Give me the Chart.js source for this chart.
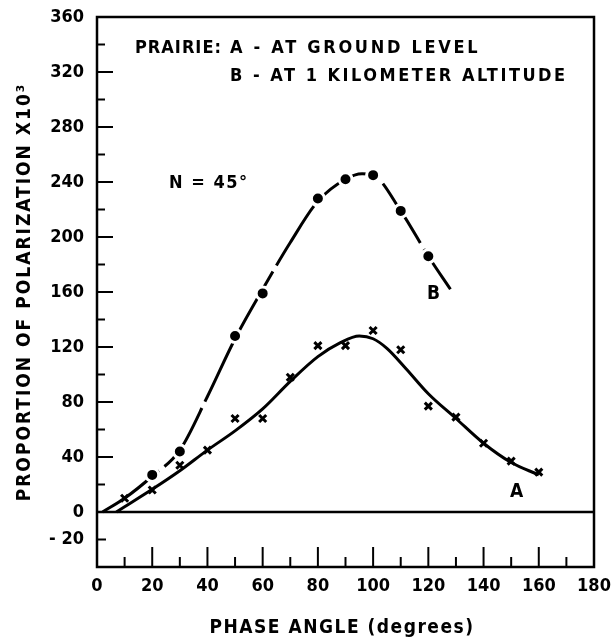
<!DOCTYPE html>
<html>
<head>
<meta charset="utf-8">
<script src="https://cdn.jsdelivr.net/npm/chart.js@4"></script>
<style>
  body { margin: 0; background: #fff; }
  #wrap { width: 613px; height: 642px; }
</style>
</head>
<body>
<div id="wrap"><canvas id="polar" width="613" height="642"></canvas></div>
<script>
// measured points, phase angle in degrees
const phaseA = [10, 20, 30, 40, 50, 60, 70, 80, 90, 100, 110, 120, 130, 140, 150, 160];
const polA = [10, 16, 34, 45, 68, 68, 98, 121, 121, 132, 118, 77, 69, 50, 37, 29];
const phaseB = [20, 30, 50, 60, 80, 90, 100, 110, 120];
const polB = [27, 44, 128, 159, 228, 242, 245, 219, 186];

// hand drawn curves
const curvePhaseA = [7, 10, 20, 30, 40, 50, 60, 70, 80, 88, 95, 100, 105, 112, 120, 130, 140, 150, 160];
const curveValA = [0, 3.8, 16.5, 30, 45, 59, 75, 95, 113, 123, 128, 126, 119, 104, 86, 68, 50, 36, 27];
const curvePhaseB = [2, 10, 20, 30, 40, 50, 60, 70, 80, 90, 96, 100, 110, 120, 128];
const curveValB = [0, 10, 26, 45, 84, 126, 162, 196, 226, 242, 246, 245, 219, 186, 162];

const xTicks = [0, 20, 40, 60, 80, 100, 120, 140, 160, 180];
const yLabels = { 360: '360', 320: '320', 280: '280', 240: '240', 200: '200', 160: '160', 120: '120', 80: '80', 40: '40', 0: '0', '-20': '- 20' };

const FONT = "'DejaVu Sans Condensed', 'Liberation Sans Narrow', sans-serif";

function pts(xs, ys) {
    return xs.map((x, i) => ({ x: x, y: ys[i] }));
}

function noPad(scale) {
    scale.paddingLeft = 0;
    scale.paddingRight = 0;
    scale.paddingTop = 0;
    scale.paddingBottom = 0;
}

const framePlugin = {
    id: 'frame',
    beforeDatasetsDraw(chart) {
        const ctx = chart.ctx;
        const a = chart.chartArea;
        const xs = chart.scales.x;
        const ys = chart.scales.y;
        ctx.save();
        ctx.strokeStyle = '#000';
        ctx.lineWidth = 2.5;
        ctx.strokeRect(a.left, a.top, a.right - a.left, a.bottom - a.top);
        // zero line
        const y0 = ys.getPixelForValue(0);
        ctx.beginPath();
        ctx.moveTo(a.left, y0);
        ctx.lineTo(a.right, y0);
        ctx.stroke();
        ctx.lineWidth = 2;
        // inner ticks on the left axis
        for (let v = -20; v <= 340; v += 20) {
            const len = v === -20 ? 9 : (v % 40 === 0 ? 16 : 8);
            const py = ys.getPixelForValue(v);
            ctx.beginPath();
            ctx.moveTo(a.left, py);
            ctx.lineTo(a.left + len, py);
            ctx.stroke();
        }
        // inner ticks on the bottom axis
        for (let d = 10; d <= 170; d += 10) {
            const len = d % 20 === 0 ? 20 : 10;
            const px = xs.getPixelForValue(d);
            ctx.beginPath();
            ctx.moveTo(px, a.bottom);
            ctx.lineTo(px, a.bottom - len);
            ctx.stroke();
        }
        ctx.restore();
    },
    afterDraw(chart) {
        const ctx = chart.ctx;
        ctx.save();
        ctx.fillStyle = '#000';
        ctx.textBaseline = 'middle';
        ctx.textAlign = 'left';
        ctx.font = 'bold 18px ' + FONT;
        ctx.letterSpacing = '1px';
        ctx.fillText('PRAIRIE:', 135, 48);
        ctx.letterSpacing = '2.7px';
        ctx.fillText('A - AT GROUND LEVEL', 230, 48);
        ctx.letterSpacing = '2.5px';
        ctx.fillText('B - AT 1 KILOMETER ALTITUDE', 230, 76);
        ctx.letterSpacing = '1.5px';
        ctx.fillText('N = 45°', 169, 183);
        ctx.letterSpacing = '0px';
        ctx.font = 'bold 19px ' + FONT;
        ctx.fillText('B', 427, 294);
        ctx.fillText('A', 510, 492);
        // axis titles
        ctx.textAlign = 'center';
        ctx.font = 'bold 19px ' + FONT;
        ctx.letterSpacing = '1.5px';
        ctx.fillText('PHASE ANGLE (degrees)', 342, 628);
        ctx.letterSpacing = '2px';
        ctx.translate(25, 292);
        ctx.rotate(-Math.PI / 2);
        ctx.fillText('PROPORTION OF POLARIZATION X10³', 0, 0);
        ctx.restore();
    }
};

new Chart(document.getElementById('polar'), {
    type: 'scatter',
    data: {
        datasets: [
            {
                label: 'B points',
                data: pts(phaseB, polB),
                pointStyle: 'circle',
                pointRadius: 6.5,
                pointBackgroundColor: '#000',
                pointBorderColor: '#fff',
                pointBorderWidth: 3,
                showLine: false
            },
            {
                label: 'A points',
                data: pts(phaseA, polA),
                pointStyle: 'crossRot',
                pointRadius: 5,
                pointBorderColor: '#000',
                pointBorderWidth: 3,
                showLine: false
            },
            {
                label: 'A',
                data: pts(curvePhaseA, curveValA),
                showLine: true,
                borderColor: '#000',
                borderWidth: 3,
                pointRadius: 0,
                cubicInterpolationMode: 'monotone'
            },
            {
                label: 'B',
                data: pts(curvePhaseB, curveValB),
                showLine: true,
                borderColor: '#000',
                borderWidth: 3,
                borderDash: [70, 7],
                pointRadius: 0,
                cubicInterpolationMode: 'monotone'
            }
        ]
    },
    options: {
        responsive: false,
        animation: false,
        devicePixelRatio: 1,
        layout: { padding: { top: 17, right: 19, left: 0, bottom: 0 } },
        plugins: {
            legend: { display: false },
            tooltip: { enabled: false }
        },
        scales: {
            x: {
                type: 'linear',
                min: 0,
                max: 180,
                afterFit(scale) { scale.height = 75; noPad(scale); },
                afterBuildTicks(scale) { scale.ticks = xTicks.map(v => ({ value: v })); },
                grid: { display: false, drawTicks: false },
                border: { display: false },
                ticks: {
                    color: '#000',
                    padding: 9,
                    maxRotation: 0,
                    autoSkip: false,
                    font: { family: FONT, size: 18, weight: 'bold' }
                }
            },
            y: {
                min: -40,
                max: 360,
                afterFit(scale) { scale.width = 97; noPad(scale); },
                afterBuildTicks(scale) {
                    scale.ticks = Object.keys(yLabels).map(Number).sort((p, q) => p - q).map(v => ({ value: v }));
                },
                grid: { display: false, drawTicks: false },
                border: { display: false },
                ticks: {
                    color: '#000',
                    padding: 13,
                    autoSkip: false,
                    font: { family: FONT, size: 18, weight: 'bold' },
                    callback: v => yLabels[v] || ''
                }
            }
        }
    },
    plugins: [framePlugin]
});
</script>
</body>
</html>
